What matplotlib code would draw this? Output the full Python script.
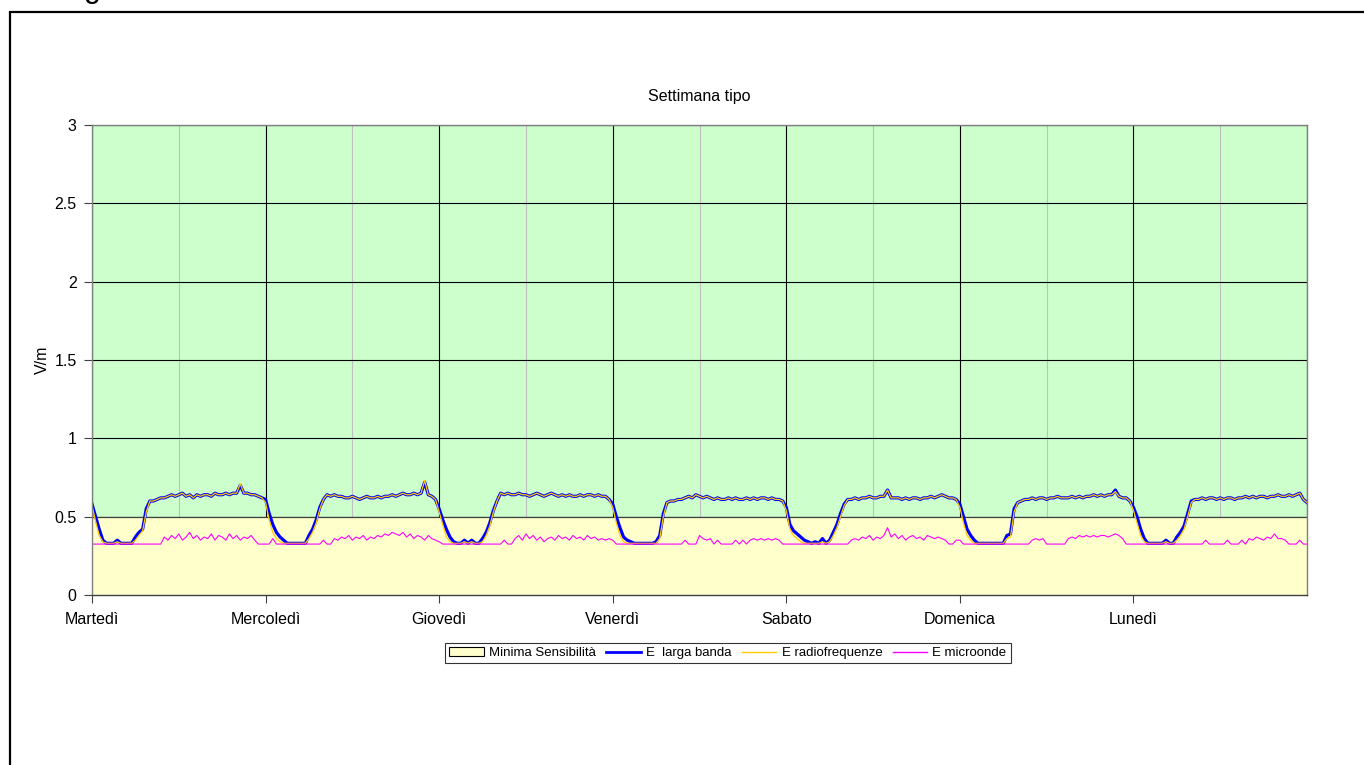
import matplotlib
matplotlib.use("Agg")
import matplotlib.pyplot as plt
from matplotlib.patches import Patch, Rectangle
from matplotlib.lines import Line2D
import numpy as np

plt.rcParams['font.family'] = ['Liberation Sans', 'DejaVu Sans']

# ---------------- data (half-hourly samples, 48 per day) ----------------
days = ["Martedì", "Mercoledì", "Giovedì", "Venerdì", "Sabato", "Domenica", "Lunedì"]
samples_per_day = 48

larga_mar = [0.58, 0.50, 0.42, 0.35, 0.33, 0.33, 0.33, 0.35, 0.33, 0.33, 0.33, 0.33,
             0.37, 0.40, 0.42, 0.55, 0.60, 0.60, 0.61, 0.62, 0.62, 0.63, 0.64, 0.63,
             0.64, 0.65, 0.63, 0.64, 0.62, 0.64, 0.63, 0.64, 0.64, 0.63, 0.65, 0.64,
             0.64, 0.65, 0.64, 0.65, 0.65, 0.70, 0.65, 0.65, 0.64, 0.64, 0.63, 0.62]
larga_mer = [0.61, 0.52, 0.45, 0.40, 0.37, 0.35, 0.33, 0.33, 0.33, 0.33, 0.33, 0.33,
             0.38, 0.42, 0.48, 0.56, 0.61, 0.64, 0.63, 0.64, 0.63, 0.63, 0.62, 0.62,
             0.63, 0.62, 0.61, 0.62, 0.63, 0.62, 0.62, 0.63, 0.62, 0.63, 0.63, 0.64,
             0.63, 0.64, 0.65, 0.64, 0.64, 0.65, 0.64, 0.65, 0.72, 0.64, 0.63, 0.61]
larga_gio = [0.55, 0.48, 0.42, 0.37, 0.34, 0.33, 0.33, 0.35, 0.33, 0.35, 0.33, 0.33,
             0.36, 0.40, 0.46, 0.54, 0.60, 0.65, 0.64, 0.65, 0.64, 0.64, 0.65, 0.64,
             0.64, 0.63, 0.64, 0.65, 0.64, 0.63, 0.64, 0.65, 0.64, 0.63, 0.64, 0.63,
             0.64, 0.63, 0.63, 0.64, 0.63, 0.64, 0.64, 0.63, 0.64, 0.63, 0.63, 0.61]
larga_ven = [0.58, 0.50, 0.43, 0.37, 0.35, 0.34, 0.33, 0.33, 0.33, 0.33, 0.33, 0.33,
             0.34, 0.38, 0.52, 0.59, 0.60, 0.60, 0.61, 0.61, 0.62, 0.63, 0.62, 0.64,
             0.63, 0.62, 0.63, 0.62, 0.61, 0.62, 0.61, 0.61, 0.62, 0.61, 0.62, 0.61,
             0.61, 0.62, 0.61, 0.62, 0.61, 0.62, 0.62, 0.61, 0.62, 0.61, 0.61, 0.60]
larga_sab = [0.56, 0.45, 0.41, 0.39, 0.37, 0.35, 0.34, 0.33, 0.34, 0.33, 0.36, 0.33,
             0.35, 0.40, 0.45, 0.52, 0.58, 0.61, 0.61, 0.62, 0.61, 0.62, 0.62, 0.63,
             0.62, 0.62, 0.63, 0.63, 0.67, 0.62, 0.62, 0.62, 0.61, 0.62, 0.61, 0.62,
             0.62, 0.61, 0.62, 0.62, 0.63, 0.62, 0.63, 0.64, 0.63, 0.62, 0.62, 0.61]
larga_dom = [0.58, 0.50, 0.42, 0.38, 0.35, 0.33, 0.33, 0.33, 0.33, 0.33, 0.33, 0.33,
             0.33, 0.38, 0.39, 0.55, 0.59, 0.60, 0.61, 0.61, 0.62, 0.61, 0.62, 0.62,
             0.61, 0.62, 0.62, 0.63, 0.62, 0.62, 0.62, 0.63, 0.62, 0.63, 0.62, 0.63,
             0.63, 0.64, 0.63, 0.64, 0.63, 0.64, 0.64, 0.67, 0.63, 0.62, 0.62, 0.60]
larga_lun = [0.56, 0.50, 0.42, 0.36, 0.33, 0.33, 0.33, 0.33, 0.33, 0.35, 0.33, 0.33,
             0.37, 0.40, 0.44, 0.52, 0.60, 0.61, 0.61, 0.62, 0.61, 0.62, 0.62, 0.61,
             0.62, 0.61, 0.62, 0.62, 0.61, 0.62, 0.62, 0.63, 0.62, 0.63, 0.62, 0.63,
             0.63, 0.62, 0.63, 0.63, 0.64, 0.63, 0.63, 0.64, 0.63, 0.64, 0.65, 0.61,
             0.59]

radio_mar = [0.57, 0.47, 0.38, 0.34, 0.33, 0.33, 0.33, 0.34, 0.33, 0.33, 0.33, 0.33,
             0.35, 0.38, 0.41, 0.53, 0.60, 0.60, 0.61, 0.62, 0.62, 0.63, 0.64, 0.63,
             0.64, 0.65, 0.63, 0.64, 0.62, 0.64, 0.63, 0.64, 0.64, 0.63, 0.65, 0.64,
             0.64, 0.65, 0.64, 0.65, 0.65, 0.71, 0.65, 0.65, 0.64, 0.64, 0.63, 0.62]
radio_mer = [0.59, 0.48, 0.40, 0.36, 0.34, 0.33, 0.33, 0.33, 0.33, 0.33, 0.33, 0.33,
             0.36, 0.40, 0.46, 0.55, 0.61, 0.64, 0.63, 0.64, 0.63, 0.63, 0.62, 0.62,
             0.63, 0.62, 0.61, 0.62, 0.63, 0.62, 0.62, 0.63, 0.62, 0.63, 0.63, 0.64,
             0.63, 0.64, 0.65, 0.64, 0.64, 0.65, 0.64, 0.65, 0.73, 0.64, 0.63, 0.61]
radio_gio = [0.53, 0.45, 0.37, 0.34, 0.33, 0.33, 0.33, 0.34, 0.33, 0.34, 0.33, 0.33,
             0.34, 0.38, 0.44, 0.53, 0.60, 0.65, 0.64, 0.65, 0.64, 0.64, 0.65, 0.64,
             0.64, 0.63, 0.64, 0.65, 0.64, 0.63, 0.64, 0.65, 0.64, 0.63, 0.64, 0.63,
             0.64, 0.63, 0.63, 0.64, 0.63, 0.64, 0.64, 0.63, 0.64, 0.63, 0.63, 0.61]
radio_ven = [0.56, 0.46, 0.38, 0.34, 0.33, 0.33, 0.33, 0.33, 0.33, 0.33, 0.33, 0.33,
             0.33, 0.36, 0.50, 0.59, 0.60, 0.60, 0.61, 0.61, 0.62, 0.63, 0.62, 0.64,
             0.63, 0.62, 0.63, 0.62, 0.61, 0.62, 0.61, 0.61, 0.62, 0.61, 0.62, 0.61,
             0.61, 0.62, 0.61, 0.62, 0.61, 0.62, 0.62, 0.61, 0.62, 0.61, 0.61, 0.60]
radio_sab = [0.54, 0.42, 0.38, 0.36, 0.34, 0.33, 0.33, 0.33, 0.33, 0.33, 0.34, 0.33,
             0.34, 0.38, 0.43, 0.50, 0.57, 0.61, 0.61, 0.62, 0.61, 0.62, 0.62, 0.63,
             0.62, 0.62, 0.63, 0.63, 0.67, 0.62, 0.62, 0.62, 0.61, 0.62, 0.61, 0.62,
             0.62, 0.61, 0.62, 0.62, 0.63, 0.62, 0.63, 0.64, 0.63, 0.62, 0.62, 0.61]
radio_dom = [0.56, 0.46, 0.38, 0.35, 0.33, 0.33, 0.33, 0.33, 0.33, 0.33, 0.33, 0.33,
             0.33, 0.36, 0.37, 0.53, 0.59, 0.60, 0.61, 0.61, 0.62, 0.61, 0.62, 0.62,
             0.61, 0.62, 0.62, 0.63, 0.62, 0.62, 0.62, 0.63, 0.62, 0.63, 0.62, 0.63,
             0.63, 0.64, 0.63, 0.64, 0.63, 0.64, 0.64, 0.66, 0.63, 0.62, 0.62, 0.60]
radio_lun = [0.54, 0.46, 0.38, 0.34, 0.33, 0.33, 0.33, 0.33, 0.33, 0.34, 0.33, 0.33,
             0.35, 0.38, 0.42, 0.50, 0.59, 0.61, 0.61, 0.62, 0.61, 0.62, 0.62, 0.61,
             0.62, 0.61, 0.62, 0.62, 0.61, 0.62, 0.62, 0.63, 0.62, 0.63, 0.62, 0.63,
             0.63, 0.62, 0.63, 0.63, 0.64, 0.63, 0.63, 0.64, 0.63, 0.64, 0.65, 0.61,
             0.59]

micro_mar = [0.325, 0.325, 0.325, 0.325, 0.325, 0.325, 0.325, 0.325, 0.325, 0.325, 0.325, 0.325,
             0.325, 0.325, 0.325, 0.325, 0.325, 0.325, 0.325, 0.325, 0.37, 0.35, 0.38, 0.36,
             0.39, 0.35, 0.37, 0.40, 0.36, 0.38, 0.35, 0.37, 0.36, 0.39, 0.35, 0.38,
             0.37, 0.35, 0.39, 0.36, 0.38, 0.35, 0.37, 0.36, 0.38, 0.35, 0.325, 0.325]
micro_mer = [0.325, 0.325, 0.36, 0.325, 0.325, 0.325, 0.325, 0.325, 0.325, 0.325, 0.325, 0.325,
             0.325, 0.325, 0.325, 0.325, 0.35, 0.325, 0.325, 0.36, 0.35, 0.37, 0.36, 0.38,
             0.35, 0.37, 0.36, 0.38, 0.35, 0.37, 0.36, 0.38, 0.37, 0.39, 0.38, 0.40,
             0.39, 0.38, 0.40, 0.37, 0.39, 0.36, 0.38, 0.37, 0.35, 0.38, 0.36, 0.35]
micro_gio = [0.34, 0.325, 0.325, 0.325, 0.325, 0.325, 0.325, 0.325, 0.325, 0.325, 0.325, 0.325,
             0.325, 0.325, 0.325, 0.325, 0.325, 0.325, 0.35, 0.325, 0.325, 0.36, 0.38, 0.35,
             0.39, 0.36, 0.38, 0.35, 0.37, 0.34, 0.36, 0.37, 0.35, 0.38, 0.36, 0.37,
             0.35, 0.38, 0.36, 0.37, 0.35, 0.38, 0.36, 0.37, 0.35, 0.36, 0.35, 0.36]
micro_ven = [0.35, 0.325, 0.325, 0.325, 0.325, 0.325, 0.325, 0.325, 0.325, 0.325, 0.325, 0.325,
             0.325, 0.325, 0.325, 0.325, 0.325, 0.325, 0.325, 0.325, 0.35, 0.325, 0.325, 0.325,
             0.38, 0.36, 0.35, 0.36, 0.325, 0.35, 0.325, 0.325, 0.325, 0.325, 0.35, 0.325,
             0.35, 0.325, 0.35, 0.36, 0.35, 0.36, 0.35, 0.36, 0.35, 0.36, 0.35, 0.325]
micro_sab = [0.325, 0.325, 0.325, 0.325, 0.325, 0.325, 0.325, 0.325, 0.325, 0.325, 0.325, 0.325,
             0.325, 0.325, 0.325, 0.325, 0.325, 0.325, 0.35, 0.36, 0.35, 0.37, 0.36, 0.38,
             0.35, 0.37, 0.36, 0.38, 0.43, 0.37, 0.39, 0.36, 0.38, 0.35, 0.37, 0.38,
             0.36, 0.37, 0.35, 0.38, 0.37, 0.36, 0.37, 0.36, 0.35, 0.325, 0.325, 0.35]
micro_dom = [0.35, 0.325, 0.325, 0.325, 0.325, 0.325, 0.325, 0.325, 0.325, 0.325, 0.325, 0.325,
             0.325, 0.325, 0.325, 0.325, 0.325, 0.325, 0.325, 0.325, 0.35, 0.36, 0.35, 0.36,
             0.325, 0.325, 0.325, 0.325, 0.325, 0.325, 0.36, 0.37, 0.36, 0.38, 0.37, 0.38,
             0.37, 0.38, 0.37, 0.38, 0.38, 0.37, 0.38, 0.39, 0.38, 0.36, 0.325, 0.325]
micro_lun = [0.325, 0.325, 0.325, 0.325, 0.325, 0.325, 0.325, 0.325, 0.325, 0.325, 0.325, 0.325,
             0.325, 0.325, 0.325, 0.325, 0.325, 0.325, 0.325, 0.325, 0.35, 0.325, 0.325, 0.325,
             0.325, 0.325, 0.35, 0.325, 0.325, 0.325, 0.35, 0.325, 0.36, 0.35, 0.37, 0.36,
             0.35, 0.37, 0.36, 0.39, 0.36, 0.36, 0.35, 0.325, 0.325, 0.325, 0.35, 0.325,
             0.325]

minima_sensibilita = 0.5
y_ticks = [0, 0.5, 1, 1.5, 2, 2.5, 3]
y_tick_labels = ["0", "0.5", "1", "1.5", "2", "2.5", "3"]

larga = larga_mar + larga_mer + larga_gio + larga_ven + larga_sab + larga_dom + larga_lun
radio = radio_mar + radio_mer + radio_gio + radio_ven + radio_sab + radio_dom + radio_lun
micro = micro_mar + micro_mer + micro_gio + micro_ven + micro_sab + micro_dom + micro_lun

n_days = len(days)
x = np.arange(len(larga))
x_end = n_days * samples_per_day

# ---------------- figure ----------------
fig = plt.figure(figsize=(13.64, 7.65), dpi=100)
fig.patch.set_facecolor('white')
ax = fig.add_axes([92/1364, 1 - 595/765, (1307-92)/1364, (595-125)/765])

ax.set_facecolor('#CCFFCC')
ax.set_xlim(0, x_end)
ax.set_ylim(0, 3)

# grid (behind area)
for k in range(n_days + 1):
    ax.axvline(k * samples_per_day, color='black', lw=0.8, zorder=0.5)
for k in range(n_days):
    ax.axvline(k * samples_per_day + samples_per_day / 2, color='#C0C0C0', lw=0.8, zorder=0.4)
for yv in y_ticks:
    ax.axhline(yv, color='black', lw=0.8, zorder=0.5)

# minimum sensitivity area
ax.fill_between([0, x_end], [0, 0], [minima_sensibilita, minima_sensibilita],
                facecolor='#FFFFCC', edgecolor='none', zorder=1)
ax.plot([0, x_end], [minima_sensibilita, minima_sensibilita], color='#404040', lw=0.9, zorder=1.1)

# series
ax.plot(x, larga, color='#0000FF', lw=2.3, zorder=3, solid_joinstyle='round')
ax.plot(x, radio, color='#FFCC00', lw=0.9, zorder=4)
ax.plot(x, micro, color='#FF00FF', lw=0.8, zorder=5)

# axes styling
for s in ['top', 'right']:
    ax.spines[s].set_color('#808080')
ax.spines['left'].set_color('#808080')
ax.spines['bottom'].set_color('#404040')
for s in ax.spines.values():
    s.set_linewidth(1.0)
    s.set_zorder(6)

ax.set_yticks(y_ticks)
ax.set_yticklabels(y_tick_labels, fontsize=11.5)
ax.set_xticks([k * samples_per_day for k in range(n_days)])
ax.set_xticklabels(days, fontsize=11.5)
ax.tick_params(axis='y', direction='out', length=6, width=0.8, color='#404040', pad=5)
ax.tick_params(axis='x', direction='out', length=6, width=0.8, color='#404040', pad=6)

ax.set_ylabel('V/m', fontsize=11.5, labelpad=3)
ax.set_title('Settimana tipo', fontsize=11.5, pad=17)

# legend
handles = [Patch(facecolor='#FFFFCC', edgecolor='black', lw=0.8),
           Line2D([], [], color='#0000FF', lw=2.0),
           Line2D([], [], color='#FFCC00', lw=1.0),
           Line2D([], [], color='#FF00FF', lw=1.0)]
labels = ['Minima Sensibilità', 'E  larga banda', 'E radiofrequenze', 'E microonde']
leg = fig.legend(handles, labels, loc='center', bbox_to_anchor=(728/1364, 1 - 653/765),
                 ncol=4, fontsize=9.5, frameon=True, fancybox=False, shadow=False,
                 handlelength=2.6, handletextpad=0.4, columnspacing=0.8,
                 borderpad=0.3, handleheight=0.7)
leg.get_frame().set_edgecolor('black')
leg.get_frame().set_linewidth(0.8)

# outer chart frame (extends beyond picture)
fig.add_artist(Rectangle((10/1364, -0.5), 2.0, 0.5 + (765-12)/765, transform=fig.transFigure,
                         fill=False, edgecolor='black', lw=1.6))
# clipped text fragment at the top (as in the reference)
fig.text(84/1364, 1 + 3/765, 'g', fontsize=22, va='baseline', ha='left', color='black')

fig.savefig('out.png', dpi=100)
